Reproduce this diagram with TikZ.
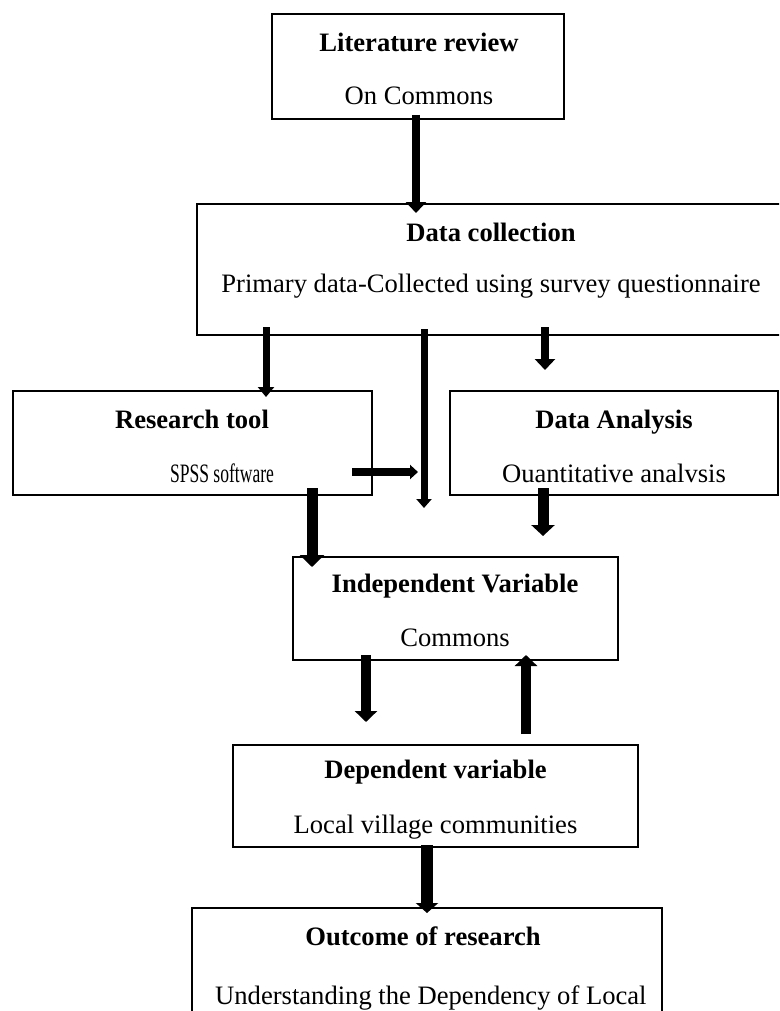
\documentclass[tikz,border=0pt]{standalone}
\usepackage{fontspec}
\setmainfont{Liberation Serif}
\usetikzlibrary{arrows.meta,calc}
\begin{document}
\begin{tikzpicture}[x=1pt,y=-1pt,
  box/.style={draw=black,line width=1.6pt,inner sep=0pt,outer sep=0pt,anchor=north west},
  hd/.style={anchor=base,font=\fontsize{26.6}{32}\selectfont\bfseries,inner sep=0pt},
  tx/.style={anchor=base,font=\fontsize{26.6}{32}\selectfont,inner sep=0pt},
  arr/.style n args={3}{draw=black,line width=#1,-{Triangle[width=#2,length=#3]}}]
\useasboundingbox (0,0) rectangle (779,1011);
\clip (0,0) rectangle (779,1011);
% boxes
\node[box,minimum width=292pt,minimum height=105pt] (lit) at (272,14) {};
\node[box,minimum width=600pt,minimum height=131pt] (dc) at (197,204) {};
\node[box,minimum width=359pt,minimum height=104pt] (rt) at (13,391) {};
\node[box,minimum width=328pt,minimum height=104pt] (da) at (450,391) {};
\node[box,minimum width=325pt,minimum height=103pt] (iv) at (293,557) {};
\node[box,minimum width=405pt,minimum height=102pt] (dv) at (233,745) {};
\node[box,minimum width=470pt,minimum height=150pt] (out) at (192,908) {};
% texts
\node[hd] (lith) at (419,52) {Literature review};
\node[tx] (litt) at (419,105) {On Commons};
\node[hd] (dch) at (491,241) {Data collection};
\node[tx] (dct) at (491,292) {Primary data-Collected using survey questionnaire};
\node[hd] (rth) at (192,428) {Research tool};
\node[tx,xscale=0.66] (rtt) at (222,482) {SPSS software};
\node[hd] (dah) at (614,428) {Data Analysis};
\node[tx] (dat) at (614,482) {Ouantitative analvsis};
\node[hd] (ivh) at (455,592) {Independent Variable};
\node[tx] (ivt) at (455,646) {Commons};
\node[hd] (dvh) at (435.5,778) {Dependent variable};
\node[tx] (dvt) at (435.5,833) {Local village communities};
\node[hd] (outh) at (423,945) {Outcome of research};
\node[tx,anchor=base west] (outt) at (215,1004) {Understanding the Dependency of Local};
% arrows
\draw[arr={8pt}{20pt}{11pt}] ($(lit.south west)+(144,-4)$) -- ($(dc.north west)+(219,9)$);
\draw[arr={7pt}{16pt}{10pt}] ($(dc.south west)+(69,-8)$) -- ($(rt.north west)+(253,6)$);
\draw[arr={7pt}{15pt}{9pt}] ($(dc.south west)+(227,-6)$) -- ($(rt.south east)+(52,13)$);
\draw[arr={8pt}{20pt}{11pt}] ($(dc.south west)+(348,-8)$) -- ($(da.north west)+(95,-21)$);
\draw[arr={8pt}{14pt}{8pt}] ($(rt.south east)+(-20,-23)$) -- ($(rt.south east)+(46,-23)$);
\draw[arr={11pt}{24pt}{12pt}] ($(rt.south west)+(299,-7)$) -- ($(iv.north west)+(19,10)$);
\draw[arr={11pt}{23pt}{11pt}] ($(da.south west)+(93,-7)$) -- ($(iv.north west)+(250,-21)$);
\draw[arr={10pt}{22pt}{11pt}] ($(iv.south west)+(73,-5)$) -- ($(dv.north west)+(133,-23)$);
\draw[arr={10pt}{22pt}{11pt}] ($(dv.north west)+(293,-11)$) -- ($(iv.south west)+(233,-5)$);
\draw[arr={12pt}{22pt}{10pt}] ($(dv.south west)+(194,-2)$) -- ($(out.north west)+(235,5)$);
\end{tikzpicture}
\end{document}
